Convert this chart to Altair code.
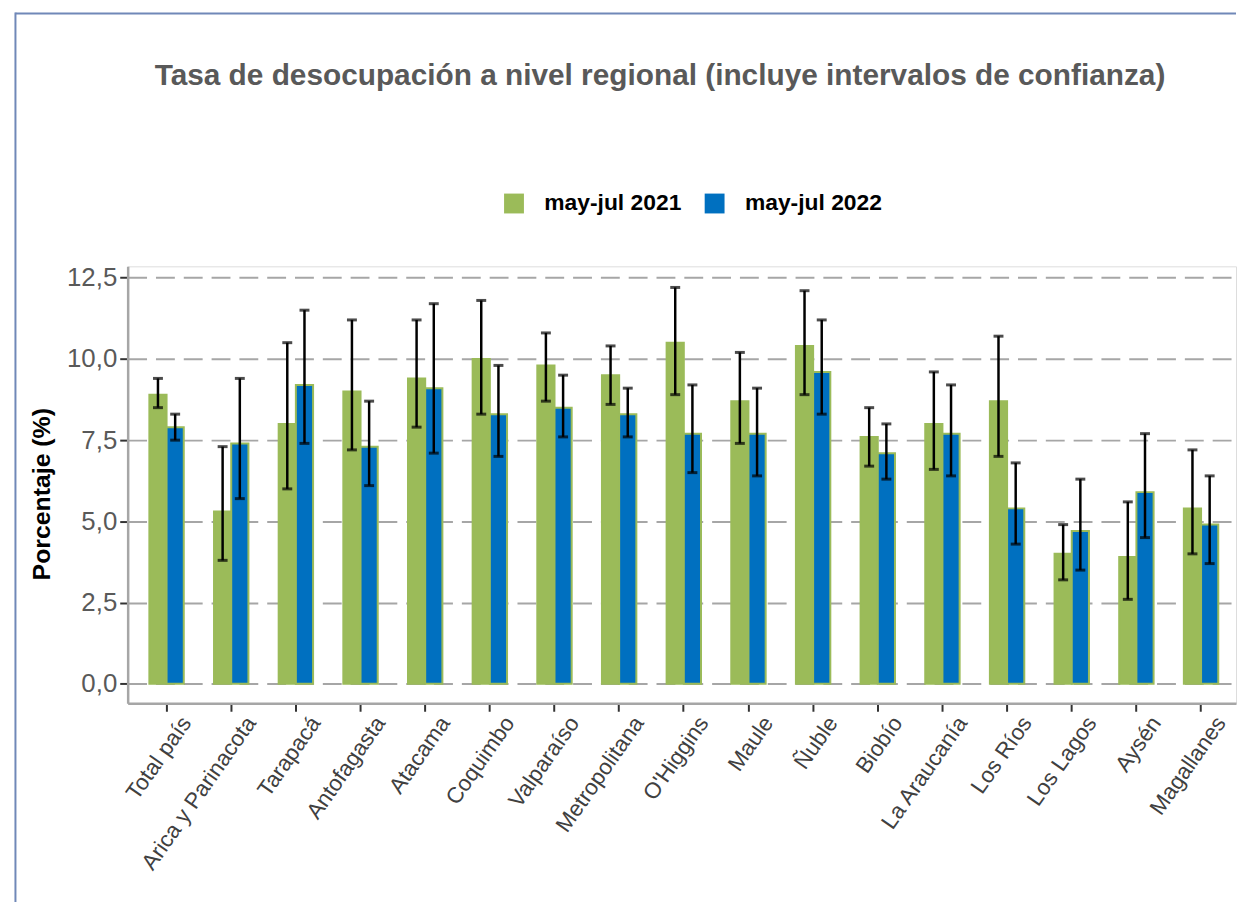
import altair as alt
import pandas as pd

regions = ["Total país", "Arica y Parinacota", "Tarapacá", "Antofagasta", "Atacama",
           "Coquimbo", "Valparaíso", "Metropolitana", "O'Higgins", "Maule", "Ñuble",
           "Biobío", "La Araucanía", "Los Ríos", "Los Lagos", "Aysén", "Magallanes"]
series_names = ["may-jul 2021", "may-jul 2022"]

val_2021 = [8.9, 5.3, 8.0, 9.0, 9.4, 10.0, 9.8, 9.5, 10.5, 8.7, 10.4, 7.6, 8.0, 8.7, 4.0, 3.9, 5.4]
lo_2021 = [8.5, 3.8, 6.0, 7.2, 7.9, 8.3, 8.7, 8.6, 8.9, 7.4, 8.9, 6.7, 6.6, 7.0, 3.2, 2.6, 4.0]
hi_2021 = [9.4, 7.3, 10.5, 11.2, 11.2, 11.8, 10.8, 10.4, 12.2, 10.2, 12.1, 8.5, 9.6, 10.7, 4.9, 5.6, 7.2]

val_2022 = [7.9, 7.4, 9.2, 7.3, 9.1, 8.3, 8.5, 8.3, 7.7, 7.7, 9.6, 7.1, 7.7, 5.4, 4.7, 5.9, 4.9]
lo_2022 = [7.5, 5.7, 7.4, 6.1, 7.1, 7.0, 7.6, 7.6, 6.5, 6.4, 8.3, 6.3, 6.4, 4.3, 3.5, 4.5, 3.7]
hi_2022 = [8.3, 9.4, 11.5, 8.7, 11.7, 9.8, 9.5, 9.1, 9.2, 9.1, 11.2, 8.0, 9.2, 6.8, 6.3, 7.7, 6.4]

y_ticks = [0, 2.5, 5, 7.5, 10, 12.5]
colors = ["#9BBB59", "#0070C0"]

rows = []
for i, r in enumerate(regions):
    rows.append({"region": r, "serie": series_names[0], "valor": val_2021[i],
                 "lo": lo_2021[i], "hi": hi_2021[i]})
    rows.append({"region": r, "serie": series_names[1], "valor": val_2022[i],
                 "lo": lo_2022[i], "hi": hi_2022[i]})
df = pd.DataFrame(rows)

W = 1116
H = 440
FONT = "Liberation Sans"

x_enc = alt.X(
    "region:N", sort=regions,
    scale=alt.Scale(paddingInner=0.468, paddingOuter=0.305, align=0.55),
    axis=alt.Axis(title=None, labelAngle=305, labelAlign="right", labelBaseline="top",
                  labelFontSize=22.5, labelColor="#404040", labelPadding=1, labelLimit=400,
                  labelOffset=11,
                  labelOverlap=False, tickSize=8, tickColor="#333333", tickWidth=2,
                  domainColor="#A6A6A6", domainWidth=2.5, labelFont=FONT),
)
xoff = alt.XOffset("serie:N", sort=series_names)
y_scale = alt.Scale(domain=[-0.6, 12.85], nice=False, zero=False)
y_axis = alt.Axis(
    values=y_ticks,
    labelExpr="replace(format(datum.value, '.1f'), '.', ',')",
    title="Porcentaje (%)", titleFontSize=25, titleFontWeight="bold", titleColor="black",
    titleFont=FONT, titlePadding=12, titleY=229,
    labelFontSize=26, labelColor="#595959", labelPadding=3, labelFont=FONT,
    tickSize=8, tickColor="#333333", tickWidth=2,
    domainColor="#A6A6A6", domainWidth=2.5,
    grid=True, gridColor="#A6A6A6", gridWidth=2, gridDash=[19, 9],
)

base = alt.Chart(df)

bars = base.mark_bar(stroke="#9BBB59", strokeWidth=2).encode(
    x=x_enc,
    xOffset=xoff,
    y=alt.Y("valor:Q", scale=y_scale, axis=y_axis),
    y2=alt.datum(0),
    color=alt.Color(
        "serie:N", sort=series_names,
        scale=alt.Scale(domain=series_names, range=colors),
        legend=alt.Legend(title=None, orient="none", legendX=377.5, legendY=-75,
                          direction="horizontal", symbolType="square", symbolSize=400,
                          symbolStrokeWidth=0, labelFontSize=23, labelFontWeight="bold",
                          labelColor="black", labelOffset=19, columnPadding=21,
                          labelFont=FONT),
    ),
)

err = base.mark_rule(color="black", strokeWidth=2.5).encode(
    x=x_enc, xOffset=xoff, y=alt.Y("lo:Q", scale=y_scale), y2="hi:Q"
)
cap_lo = base.mark_tick(color="black", thickness=3, size=10).encode(
    x=x_enc, xOffset=xoff, y=alt.Y("lo:Q", scale=y_scale)
)
cap_hi = base.mark_tick(color="black", thickness=3, size=10).encode(
    x=x_enc, xOffset=xoff, y=alt.Y("hi:Q", scale=y_scale)
)

frame_data = alt.Data(values=[{"f": 1}])
frame_top = alt.Chart(frame_data).mark_rule(color="#7088B8", strokeWidth=2).encode(
    x=alt.value(-113), x2=alt.value(W), y=alt.value(-254.5)
)
frame_left = alt.Chart(frame_data).mark_rule(color="#7088B8", strokeWidth=2).encode(
    x=alt.value(-113), y=alt.value(-255.5), y2=alt.value(640)
)

chart = alt.layer(bars, err, cap_lo, cap_hi, frame_top, frame_left).properties(
    width=W, height=H,
    padding={"left": 6.5, "top": 0, "right": 0, "bottom": 2},
    title=alt.TitleParams(
        "Tasa de desocupación a nivel regional (incluye intervalos de confianza)",
        fontSize=30, font=FONT, fontWeight="bold", color="#595959",
        anchor="middle", frame="group", offset=-80, dx=-22,
    ),
).configure_view(stroke=None).configure(font=FONT)

chart.save("out.html", embed_options={"renderer": "svg", "actions": False})
